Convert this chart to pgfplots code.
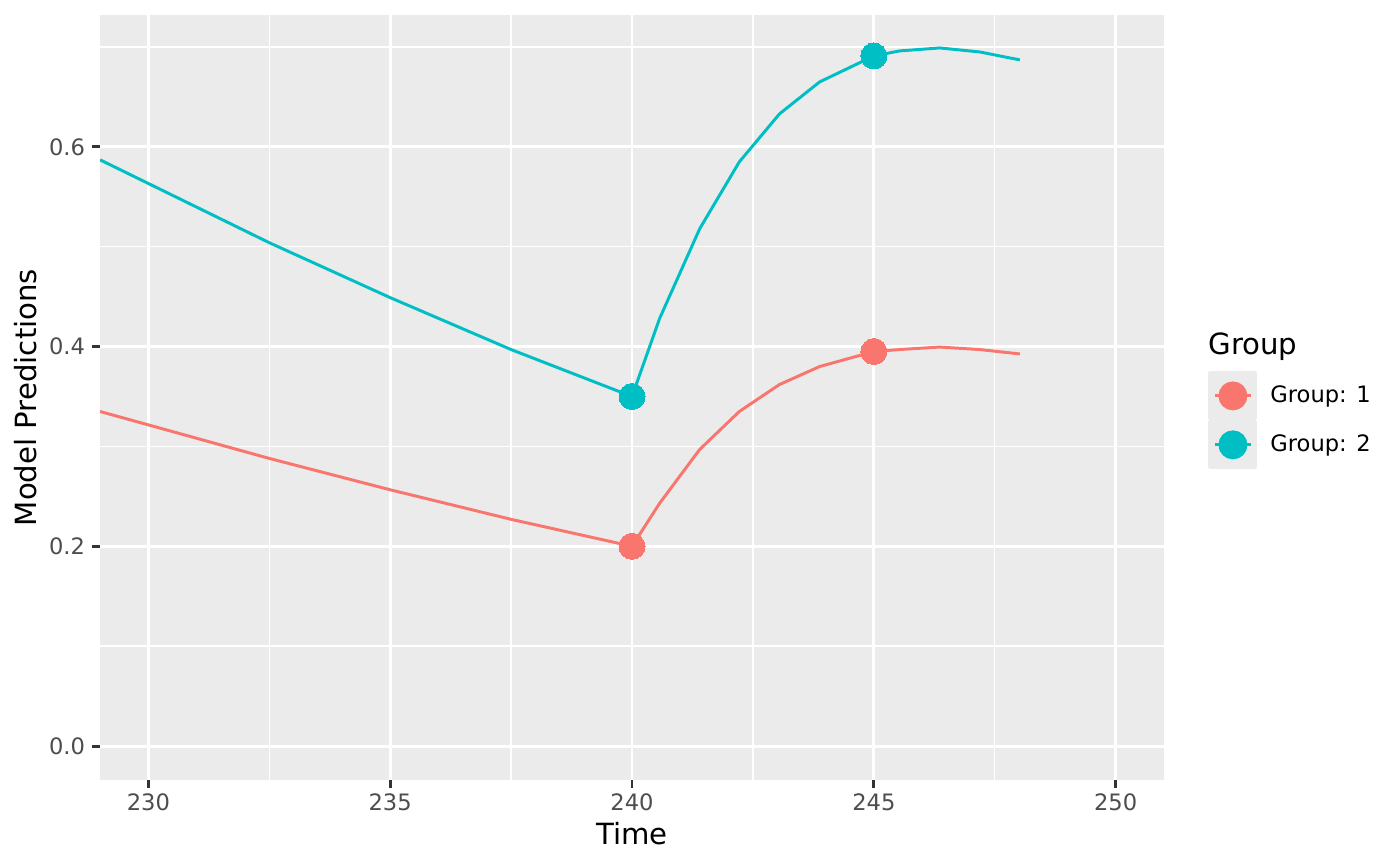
\documentclass[border=0pt]{standalone}
\usepackage{pgfplots}
\pgfplotsset{compat=1.18}
\usepackage{fontspec}
\setmainfont{DejaVu Sans}
\definecolor{ggbg}{HTML}{EBEBEB}
\definecolor{ggred}{HTML}{F8766D}
\definecolor{ggteal}{HTML}{00BFC4}
\definecolor{grey30}{HTML}{4D4D4D}
\definecolor{grey20}{HTML}{333333}
\begin{document}
\begin{tikzpicture}
\path[use as bounding box] (-50pt,-42.5pt) rectangle (650pt,390pt);
\begin{axis}[
  at={(0,0)}, anchor=south west,
  scale only axis, width=532pt, height=382.5pt,
  xmin=229, xmax=251, ymin=-0.034, ymax=0.732,
  axis background/.style={fill=ggbg},
  axis line style={draw=none},
  xtick={230,235,240,245,250},
  ytick={0,0.2,0.4,0.6},
  minor xtick={232.5,237.5,242.5,247.5},
  minor ytick={0.1,0.3,0.5,0.7},
  grid=both,
  major grid style={white, line width=1.48pt},
  minor grid style={white, line width=0.74pt},
  tick align=outside,
  tick pos=left,
  major tick length=3.8pt,
  minor tick length=0pt,
  major tick style={grey20, line width=1.48pt},
  minor tick style={draw=none},
  /pgf/number format/assume math mode=true,
  xticklabel style={font=\fontsize{11.3}{13}\selectfont, text=grey30, inner sep=0pt, anchor=north, yshift=-2.85pt},
  yticklabel style={font=\fontsize{11.3}{13}\selectfont, text=grey30, inner sep=0pt, anchor=east, xshift=-3.5pt,
    /pgf/number format/fixed, /pgf/number format/fixed zerofill, /pgf/number format/precision=1},
  xlabel={Time},
  ylabel={Model Predictions},
  xlabel style={font=\fontsize{14.6}{17}\selectfont, inner sep=0pt, at={(axis description cs:0.5,-0.0702)}, anchor=center},
  ylabel style={font=\fontsize{14.6}{17}\selectfont, inner sep=0pt, at={(axis description cs:-0.06955,0.5)}, anchor=center, rotate=0},
  legend style={at={(1.0414,0.5346)}, anchor=north west, draw=none, fill=none, inner sep=0pt,
    row sep=0pt, column sep=6.5pt,
    nodes={inner sep=0pt, font=\fontsize{11.3}{13}\selectfont, text=black}},
  legend cell align=left,
  legend image code/.code={
    \fill[ggbg] (0pt,-11.5pt) rectangle (23pt,11.5pt);
    \draw[line width=1.48pt] (2.5pt,0pt) -- (20.5pt,0pt);
    \fill (11.5pt,0pt) circle (6.5pt);
  },
]
\addplot[ggred, line width=1.48pt, line join=round] coordinates {
 (229,0.335) (232.5,0.288) (235,0.2566) (237.5,0.227) (240,0.200)
 (240.57,0.243) (241.4,0.297) (242.22,0.335) (243.05,0.362) (243.88,0.380)
 (245,0.395) (245.53,0.397) (246.36,0.3995) (247.19,0.397) (248.02,0.3926)
};
\addlegendentry{Group: 1}
\addplot[ggteal, line width=1.48pt, line join=round] coordinates {
 (229,0.587) (232.5,0.504) (235,0.449) (237.5,0.397) (240,0.350)
 (240.57,0.428) (241.4,0.518) (242.22,0.585) (243.05,0.633) (243.88,0.665)
 (245,0.691) (245.53,0.696) (246.36,0.699) (247.19,0.695) (248.02,0.687)
};
\addlegendentry{Group: 2}
\addplot[only marks, mark=*, mark size=6.5pt, ggred, mark options={line width=0pt}, forget plot] coordinates {(240,0.200) (245,0.395)};
\addplot[only marks, mark=*, mark size=6.5pt, ggteal, mark options={line width=0pt}, forget plot] coordinates {(240,0.350) (245,0.691)};
\end{axis}
\node[anchor=base west, inner sep=0pt, font=\fontsize{14.6}{17}\selectfont] at (554pt,212.85pt) {Group};
\end{tikzpicture}
\end{document}
